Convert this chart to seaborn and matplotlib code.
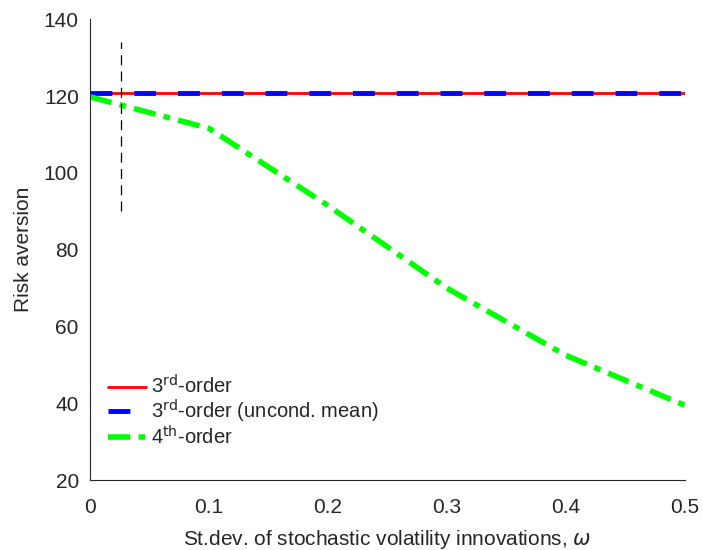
import numpy as np
import pandas as pd
import matplotlib
matplotlib.use('Agg')
import matplotlib.pyplot as plt
import seaborn as sns

# data
omega = [0.0, 0.1, 0.2, 0.3, 0.4, 0.5]
third_order = [120.8, 120.8, 120.8, 120.8, 120.8, 120.8]
third_uncond = [120.8, 120.8, 120.8, 120.8, 120.8, 120.8]
fourth_order = [119.8, 111.6, 91.5, 70.0, 52.5, 39.5]
vline_x = 0.026
vline_range = [90, 134]

sns.set_style('white')
plt.rcParams['font.family'] = ['Liberation Sans', 'DejaVu Sans']
plt.rcParams['mathtext.fontset'] = 'dejavusans'

fig = plt.figure(figsize=(7.03, 5.5), dpi=100)
ax = fig.add_axes([0.128, 0.127, 0.846, 0.838])

df = pd.DataFrame({'omega': omega, 'third': third_order,
                   'uncond': third_uncond, 'fourth': fourth_order})

sns.lineplot(data=df, x='omega', y='third', ax=ax, color='#ff0000',
             linewidth=2, label='3$^{\\mathrm{rd}}$-order')
sns.lineplot(data=df, x='omega', y='uncond', ax=ax, color='#0000ff',
             linewidth=3.5, label='3$^{\\mathrm{rd}}$-order (uncond. mean)')
ax.lines[-1].set_dashes([4.5, 4.5])
sns.lineplot(data=df, x='omega', y='fourth', ax=ax, color='#00ff00',
             linewidth=4, label='4$^{\\mathrm{th}}$-order')
ax.lines[-1].set_dashes([4, 1.5, 1.2, 1.5])

ax.plot([vline_x, vline_x], vline_range, color='black', linewidth=0.9,
        linestyle=(0, (8, 5)))

ax.set_xlim(0, 0.5)
ax.set_ylim(20, 140)
ax.set_xticks([0, 0.1, 0.2, 0.3, 0.4, 0.5])
ax.set_xticklabels(['0', '0.1', '0.2', '0.3', '0.4', '0.5'])
ax.set_yticks([20, 40, 60, 80, 100, 120, 140])

for s in ['top', 'right']:
    ax.spines[s].set_visible(False)
for s in ['left', 'bottom']:
    ax.spines[s].set_color('#262626')
    ax.spines[s].set_linewidth(0.8)

ax.tick_params(direction='in', length=5, width=0.8, colors='#262626',
               labelsize=15)
ax.tick_params(axis='x', pad=13)
ax.tick_params(axis='y', pad=8)
ax.set_xlabel('St.dev. of stochastic volatility innovations, $\\omega$',
              fontsize=15, color='#262626', labelpad=8)
ax.set_ylabel('Risk aversion', fontsize=15, color='#262626', labelpad=8)

ax.legend(loc='lower left', bbox_to_anchor=(0.0, 0.03), frameon=False,
          fontsize=14.5, handlelength=1.9, handletextpad=0.25,
          labelspacing=0.0, borderaxespad=0.5)

fig.savefig('out.png', dpi=100)
